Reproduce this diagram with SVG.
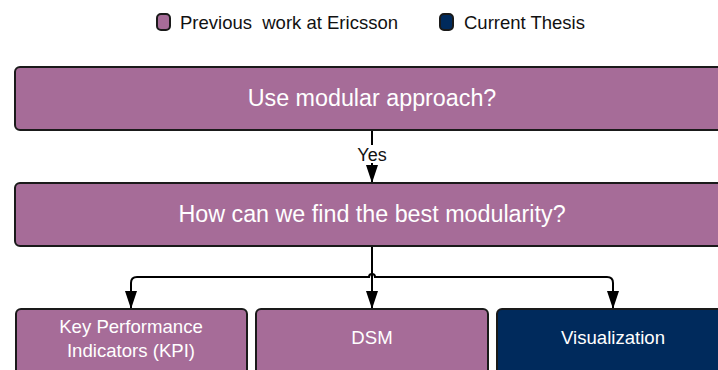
<svg xmlns="http://www.w3.org/2000/svg" width="718" height="370" viewBox="0 0 718 370">
  <defs>
    <marker id="arrow" viewBox="0 0 18 12" refX="18" refY="6" markerWidth="18" markerHeight="12" markerUnits="userSpaceOnUse" orient="auto">
      <path d="M0,0 L18,6 L0,12 Z" fill="#000"/>
    </marker>
    <style>
      .prev { fill: #A66C98; stroke: #1a1a1a; stroke-width: 2; }
      .cur { fill: #002A5C; stroke: #1a1a1a; stroke-width: 2; }
      .label { font-family: "Liberation Sans", Arial, sans-serif; fill: #ffffff; text-anchor: middle; }
      .legend { font-family: "Liberation Sans", Arial, sans-serif; fill: #111; font-size: 18.5px; white-space: pre; }
      .edge { fill: none; stroke: #000; stroke-width: 2; }
    </style>
  </defs>
  <rect width="718" height="370" fill="#ffffff"/>

  <!-- legend -->
  <g id="legend">
    <rect class="prev" x="157" y="14" width="13" height="16" rx="4"/>
    <text class="legend" x="180" y="29" xml:space="preserve">Previous  work at Ericsson</text>
    <rect class="cur" x="440" y="14" width="13" height="16" rx="4"/>
    <text class="legend" x="464" y="29">Current Thesis</text>
  </g>

  <!-- connectors -->
  <g id="connectors">
    <path class="edge" d="M372,131 V183" marker-end="url(#arrow)"/>
    <rect x="355" y="145" width="34" height="18" fill="#ffffff"/>
    <text x="372" y="161" font-family="Liberation Sans, Arial, sans-serif" font-size="18" fill="#111" text-anchor="middle">Yes</text>
    <path class="edge" d="M372,247 V309" marker-end="url(#arrow)"/>
    <path class="edge" d="M131,309 V283 Q131,277 137,277 H369 A3,3 0 0 1 375,277 H607 Q613,277 613,283 V309" marker-end="url(#arrow)"/>
    <path class="edge" d="M131,290 V309" marker-end="url(#arrow)"/>
  </g>

  <!-- nodes -->
  <g id="n-modular">
    <rect class="prev" x="15" y="67" width="715" height="63" rx="5"/>
    <text class="label" x="372" y="106" font-size="23.3">Use modular approach?</text>
  </g>
  <g id="n-best">
    <rect class="prev" x="15" y="183" width="715" height="63" rx="5"/>
    <text class="label" x="372" y="222" font-size="23.3">How can we find the best modularity?</text>
  </g>
  <g id="n-kpi">
    <rect class="prev" x="16" y="309" width="231" height="70" rx="5"/>
    <text class="label" x="131" y="333" font-size="18.6">Key Performance</text>
    <text class="label" x="131" y="357" font-size="18.6">Indicators (KPI)</text>
  </g>
  <g id="n-dsm">
    <rect class="prev" x="256" y="309" width="232" height="70" rx="5"/>
    <text class="label" x="372" y="344" font-size="18.6">DSM</text>
  </g>
  <g id="n-vis">
    <rect class="cur" x="497" y="309" width="233" height="70" rx="5"/>
    <text class="label" x="613" y="344" font-size="18.6">Visualization</text>
  </g>
</svg>
